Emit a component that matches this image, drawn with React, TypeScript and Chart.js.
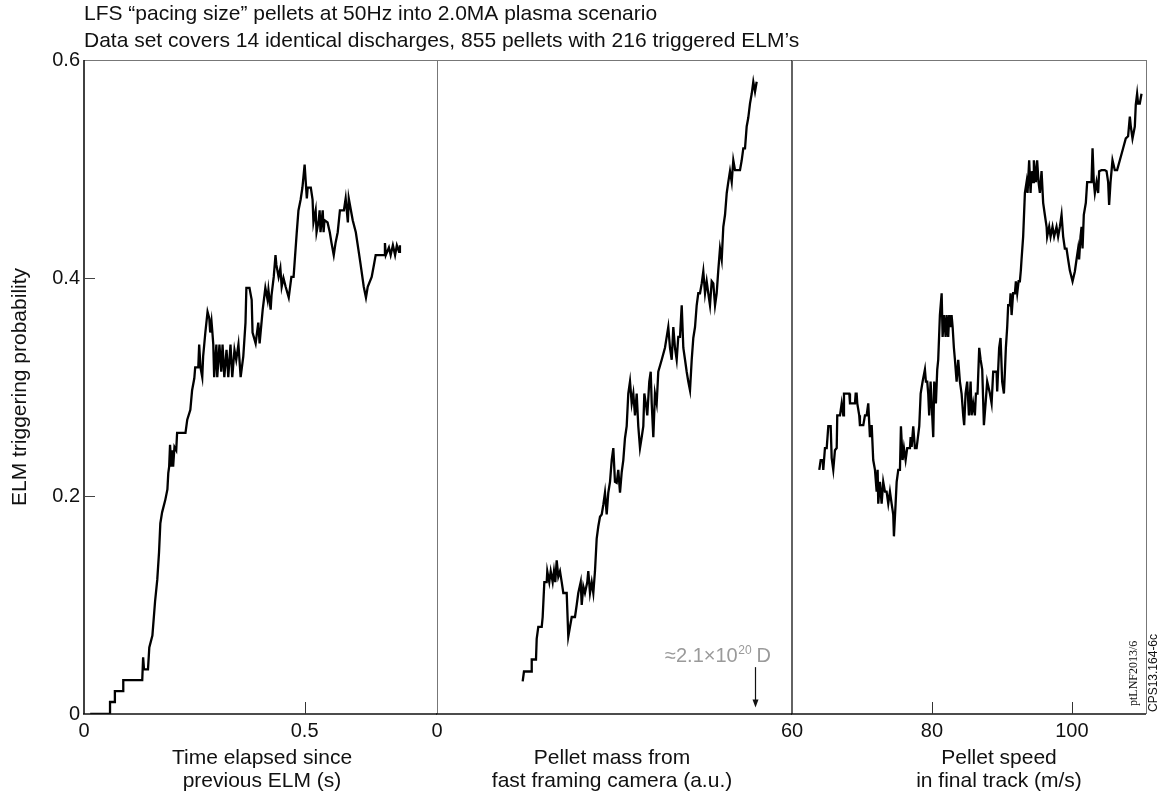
import React, { useEffect, useRef } from "react";
import { Chart, registerables } from "chart.js";

Chart.register(...registerables);

const SANS = "'Liberation Sans', Arial, Helvetica, sans-serif";
const SERIF = "'Liberation Serif', 'DejaVu Serif', serif";

// ---------- text ----------
const pageTitle = [
  "LFS \u201Cpacing size\u201D pellets at 50Hz into 2.0MA plasma scenario",
  "Data set covers 14 identical discharges, 855 pellets with 216 triggered ELM\u2019s",
];
const yAxisTitle = "ELM triggering probability";
const creditA = "CPS13.164-6c";
const creditB = "ptLNF2013/6";

// ---------- shared y axis ----------
const yTicks = [0, 0.2, 0.4, 0.6];

// ---------- panel 1: time since previous ELM ----------
const timeX = [
  0.014, 0.059, 0.059, 0.07, 0.07, 0.089, 0.089, 0.132, 0.134, 0.136, 0.145, 0.148, 0.155, 0.161,
  0.166, 0.17, 0.173, 0.177, 0.184, 0.189, 0.191, 0.193, 0.195, 0.198, 0.2, 0.202, 0.205, 0.209,
  0.211, 0.23, 0.234, 0.241, 0.245, 0.25, 0.252, 0.259, 0.261, 0.264, 0.268, 0.27, 0.275, 0.28,
  0.284, 0.286, 0.289, 0.291, 0.293, 0.295, 0.3, 0.302, 0.307, 0.311, 0.314, 0.318, 0.323, 0.327,
  0.332, 0.336, 0.341, 0.345, 0.35, 0.355, 0.361, 0.366, 0.368, 0.375, 0.38, 0.382, 0.389, 0.395,
  0.398, 0.405, 0.411, 0.416, 0.418, 0.423, 0.425, 0.43, 0.434, 0.436, 0.441, 0.445, 0.448, 0.452,
  0.457, 0.464, 0.47, 0.475, 0.482, 0.486, 0.491, 0.495, 0.5, 0.505, 0.507, 0.514, 0.518, 0.52,
  0.525, 0.527, 0.532, 0.534, 0.536, 0.541, 0.543, 0.545, 0.552, 0.557, 0.561, 0.566, 0.57, 0.575,
  0.58, 0.589, 0.593, 0.598, 0.6, 0.609, 0.616, 0.623, 0.627, 0.634, 0.639, 0.643, 0.652, 0.657,
  0.661, 0.68, 0.682, 0.684, 0.691, 0.695, 0.7, 0.705, 0.709, 0.714, 0.716,
];
const timeProb = [
  0, 0, 0.011, 0.011, 0.021, 0.021, 0.031, 0.031, 0.052, 0.041, 0.041, 0.061, 0.072, 0.103,
  0.123, 0.148, 0.175, 0.185, 0.196, 0.206, 0.221, 0.227, 0.247, 0.227, 0.242, 0.227, 0.245, 0.242,
  0.258, 0.258, 0.27, 0.279, 0.297, 0.308, 0.318, 0.318, 0.339, 0.318, 0.309, 0.328, 0.35, 0.369,
  0.363, 0.35, 0.36, 0.35, 0.339, 0.309, 0.339, 0.309, 0.339, 0.314, 0.339, 0.309, 0.334, 0.309,
  0.339, 0.309, 0.334, 0.325, 0.339, 0.309, 0.328, 0.359, 0.391, 0.391, 0.38, 0.35, 0.34, 0.359,
  0.34, 0.371, 0.391, 0.38, 0.389, 0.371, 0.384, 0.401, 0.421, 0.412, 0.401, 0.409, 0.392, 0.4,
  0.392, 0.382, 0.401, 0.401, 0.441, 0.462, 0.472, 0.483, 0.504, 0.473, 0.483, 0.483, 0.472, 0.451,
  0.462, 0.442, 0.453, 0.462, 0.442, 0.462, 0.442, 0.453, 0.451, 0.442, 0.432, 0.421, 0.432, 0.442,
  0.462, 0.462, 0.473, 0.451, 0.473, 0.453, 0.442, 0.423, 0.412, 0.392, 0.382, 0.392, 0.401, 0.412,
  0.421, 0.421, 0.432, 0.421, 0.428, 0.421, 0.43, 0.421, 0.43, 0.424, 0.43,
];
const timeRange = [0, 0.8];
const timeLabelTicks = [0, 0.5];
const timeInnerTicks = [0.5];
const timeTitle = ["Time elapsed since", "previous ELM (s)"];

// ---------- panel 2: pellet mass ----------
const massX = [
  14.48, 14.7, 16.01, 16.01, 16.73, 16.85, 17.12, 17.7, 17.86, 18.14, 18.54, 18.64, 18.98, 19.22,
  19.55, 19.77, 19.99, 20.23, 20.5, 20.79, 21.08, 21.35, 21.92, 22.19, 22.48, 22.77, 23.32, 23.61,
  23.88, 24.29, 24.46, 24.73, 25.01, 25.4, 25.57, 25.86, 26.15, 26.42, 26.7, 26.99, 27.26, 27.55,
  27.84, 28.11, 28.39, 28.68, 28.95, 29.24, 29.53, 29.8, 30.08, 30.37, 30.64, 30.93, 31.22, 31.49,
  31.77, 32.06, 32.33, 32.62, 32.91, 33.18, 33.46, 33.75, 34.02, 34.31, 34.6, 34.87, 35.04, 35.32,
  35.54, 35.88, 36.12, 36.29, 36.56, 36.84, 37.13, 37.4, 37.98, 38.53, 39.09, 39.38, 39.67, 39.94,
  40.22, 40.51, 40.78, 41.07, 41.36, 41.63, 41.92, 42.2, 42.47, 42.76, 43.05, 43.32, 43.61, 43.89,
  44.16, 44.45, 44.74, 45.01, 45.3, 45.58, 45.85, 46.14, 46.43, 46.7, 46.99, 47.27, 47.54, 47.83,
  48.12, 48.39, 48.68, 48.97, 49.23, 49.52, 49.81, 50.08, 50.37, 51.21, 51.5, 51.77, 52.06, 52.34,
  52.61, 52.9, 53.19, 53.46, 53.75, 54.03,
];
const massProb = [
  0.03, 0.039, 0.039, 0.05, 0.05, 0.069, 0.08, 0.08, 0.089, 0.121, 0.121, 0.131, 0.121, 0.131,
  0.121, 0.131, 0.121, 0.141, 0.126, 0.131, 0.121, 0.111, 0.111, 0.071, 0.08, 0.089, 0.089, 0.1,
  0.111, 0.121, 0.1, 0.117, 0.111, 0.121, 0.131, 0.111, 0.121, 0.111, 0.131, 0.161, 0.172, 0.181,
  0.183, 0.192, 0.203, 0.183, 0.203, 0.213, 0.233, 0.244, 0.213, 0.212, 0.224, 0.203, 0.222, 0.233,
  0.253, 0.264, 0.294, 0.305, 0.285, 0.294, 0.274, 0.294, 0.264, 0.244, 0.254, 0.264, 0.294, 0.284,
  0.274, 0.305, 0.314, 0.285, 0.254, 0.294, 0.285, 0.314, 0.325, 0.336, 0.355, 0.336, 0.325, 0.355,
  0.336, 0.325, 0.346, 0.346, 0.375, 0.336, 0.325, 0.314, 0.305, 0.297, 0.325, 0.345, 0.355, 0.375,
  0.386, 0.386, 0.395, 0.406, 0.386, 0.397, 0.386, 0.375, 0.397, 0.395, 0.375, 0.386, 0.407, 0.427,
  0.417, 0.447, 0.458, 0.478, 0.488, 0.498, 0.488, 0.508, 0.499, 0.499, 0.508, 0.519, 0.519, 0.539,
  0.547, 0.56, 0.569, 0.58, 0.571, 0.58,
];
const massRange = [0, 60];
const massLabelTicks = [0, 60];
const massInnerTicks: number[] = [];
const massTitle = ["Pellet mass from", "fast framing camera (a.u.)"];
const massNoteMain = "\u22482.1\u00D710";
const massNoteSup = "20";
const massNoteTail = " D";
const massNoteAt = 47.5; // x value where the note is centred
const massNoteBaseline = 0.048;
const massArrowAt = 53.8;
const massArrowFrom = 0.043;
const massArrowTo = 0.006;

// ---------- panel 3: pellet speed ----------
const speedX = [
  63.9, 64.1, 64.39, 64.47, 64.71, 64.96, 65.19, 65.53, 65.67, 65.9, 66.14, 66.39, 66.47, 66.86,
  67.1, 67.33, 67.43, 68.19, 68.29, 69.0, 69.1, 69.24, 69.33, 69.61, 69.71, 70.19, 70.43, 70.67,
  70.9, 71.14, 71.39, 71.61, 71.86, 72.1, 72.24, 72.33, 72.57, 72.81, 73.04, 73.29, 73.52, 73.76,
  74.0, 74.24, 74.47, 74.57, 74.81, 74.96, 75.19, 75.43, 75.57, 75.81, 76.0, 76.24, 76.47, 76.86,
  76.96, 77.1, 77.33, 77.57, 77.81, 78.19, 78.39, 78.67, 79.0, 79.14, 79.33, 79.47, 79.61, 79.81,
  79.96, 80.19, 80.33, 80.57, 80.76, 80.9, 81.14, 81.39, 81.53, 81.71, 81.96, 82.1, 82.33, 82.47,
  82.67, 82.81, 82.96, 83.14, 83.29, 83.53, 83.76, 84.0, 84.24, 84.47, 84.61, 84.81, 85.04, 85.29,
  85.53, 85.67, 85.9, 86.14, 86.29, 86.52, 86.76, 86.96, 87.19, 87.43, 87.67, 87.9, 88.29, 88.53,
  88.76, 89.24, 89.33, 89.61, 89.81, 90.04, 90.29, 90.43, 90.57, 90.76, 90.9, 91.14, 91.24, 91.39,
  91.61, 91.86, 92.0, 92.19, 92.39, 92.57, 92.71, 92.81, 93.04, 93.29, 93.53, 93.67, 93.9, 94.1,
  94.24, 94.47, 94.57, 94.86, 95.04, 95.24, 95.43, 95.67, 95.9, 96.14, 96.39, 96.47, 96.76, 96.96,
  97.24, 97.47, 97.81, 98.04, 98.29, 98.53, 98.76, 99.0, 99.24, 99.47, 99.71, 100.1, 100.43, 100.67,
  100.9, 101.04, 101.24, 101.39, 101.53, 101.71, 102.0, 102.19, 102.47, 102.81, 102.96, 103.14,
  103.29, 103.53, 103.76, 103.9, 104.24, 104.71, 104.96, 105.19, 105.33, 105.53, 105.81, 106.14,
  106.47, 106.86, 107.33, 107.71, 108.04, 108.29, 108.43, 108.67, 109.0, 109.14, 109.33, 109.47,
  109.71, 109.96,
];
const speedProb = [
  0.224, 0.233, 0.233, 0.224, 0.244, 0.244, 0.264, 0.264, 0.235, 0.224, 0.242, 0.244, 0.274, 0.274,
  0.285, 0.274, 0.294, 0.294, 0.285, 0.285, 0.294, 0.294, 0.285, 0.274, 0.265, 0.265, 0.274, 0.274,
  0.285, 0.254, 0.265, 0.233, 0.224, 0.204, 0.224, 0.193, 0.213, 0.193, 0.213, 0.204, 0.204, 0.193,
  0.204, 0.193, 0.183, 0.163, 0.193, 0.213, 0.224, 0.224, 0.264, 0.233, 0.244, 0.233, 0.244, 0.244,
  0.254, 0.245, 0.264, 0.244, 0.244, 0.264, 0.294, 0.305, 0.316, 0.305, 0.305, 0.294, 0.274, 0.305,
  0.285, 0.254, 0.305, 0.285, 0.316, 0.325, 0.366, 0.386, 0.346, 0.366, 0.346, 0.366, 0.346, 0.366,
  0.355, 0.366, 0.355, 0.336, 0.325, 0.305, 0.325, 0.305, 0.294, 0.274, 0.265, 0.294, 0.305, 0.274,
  0.305, 0.274, 0.285, 0.274, 0.294, 0.294, 0.336, 0.325, 0.316, 0.265, 0.285, 0.305, 0.294, 0.285,
  0.314, 0.314, 0.296, 0.336, 0.345, 0.305, 0.294, 0.314, 0.336, 0.355, 0.375, 0.375, 0.386, 0.366,
  0.386, 0.386, 0.397, 0.386, 0.397, 0.397, 0.407, 0.417, 0.438, 0.478, 0.488, 0.478, 0.508, 0.478,
  0.498, 0.488, 0.508, 0.488, 0.508, 0.488, 0.478, 0.498, 0.469, 0.458, 0.447, 0.438, 0.447, 0.438,
  0.447, 0.438, 0.447, 0.438, 0.447, 0.458, 0.438, 0.427, 0.427, 0.417, 0.407, 0.397, 0.406, 0.417,
  0.427, 0.417, 0.438, 0.447, 0.427, 0.458, 0.469, 0.488, 0.488, 0.488, 0.519, 0.488,
  0.478, 0.488, 0.478, 0.498, 0.499, 0.499, 0.498, 0.488, 0.467, 0.488, 0.508, 0.499,
  0.499, 0.508, 0.519, 0.528, 0.53, 0.548, 0.539, 0.528, 0.539, 0.559, 0.569, 0.56,
  0.56, 0.569,
];
const speedRange = [60, 110.6];
const speedLabelTicks = [80, 100];
const speedInnerTicks = [80, 100];
const speedTitle = ["Pellet speed", "in final track (m/s)"];

// ---------- layout (pixels) ----------
const W = 1164;
const H = 794;
const PLOT_TOP = 60;
const PLOT_BOTTOM = 714;
const EDGES = [84, 437, 792, 1146];
const AXIS_TITLE_CENTERS = [262, 612, 999];

type Panel = {
  xs: number[];
  ys: number[];
  range: number[];
  labelTicks: number[];
  innerTicks: number[];
  title: string[];
};

const PANELS: Panel[] = [
  { xs: timeX, ys: timeProb, range: timeRange, labelTicks: timeLabelTicks, innerTicks: timeInnerTicks, title: timeTitle },
  { xs: massX, ys: massProb, range: massRange, labelTicks: massLabelTicks, innerTicks: massInnerTicks, title: massTitle },
  { xs: speedX, ys: speedProb, range: speedRange, labelTicks: speedLabelTicks, innerTicks: speedInnerTicks, title: speedTitle },
];

function seg(ctx: CanvasRenderingContext2D, x1: number, y1: number, x2: number, y2: number, color: string, w: number) {
  ctx.beginPath();
  ctx.strokeStyle = color;
  ctx.lineWidth = w;
  ctx.moveTo(x1, y1);
  ctx.lineTo(x2, y2);
  ctx.stroke();
}

function makeDecor(idx: number, panel: Panel) {
  return {
    id: "decor" + idx,
    afterDraw(chart: any) {
      const ctx: CanvasRenderingContext2D = chart.ctx;
      const a = chart.chartArea;
      const xs = chart.scales.x;
      const ys = chart.scales.y;
      ctx.save();
      // frame
      seg(ctx, a.left, a.top + 0.5, a.right, a.top + 0.5, "#777", 1);
      seg(ctx, a.left - 1, a.bottom, a.right, a.bottom, "#111", 1.6);
      if (idx === 0) seg(ctx, a.left, a.top, a.left, a.bottom, "#111", 1.6);
      if (idx === 1) seg(ctx, a.right, a.top, a.right, a.bottom, "#222", 1.4);
      else seg(ctx, a.right + 0.5, a.top, a.right + 0.5, a.bottom, "#777", 1);

      // inward ticks
      for (const v of panel.innerTicks) {
        const px = Math.round(xs.getPixelForValue(v)) + 0.5;
        seg(ctx, px, a.bottom, px, a.bottom - 12, "#333", 1);
      }
      if (idx === 0) {
        for (const v of [0.2, 0.4]) {
          const py = Math.round(ys.getPixelForValue(v)) + 0.5;
          seg(ctx, a.left, py, a.left + 11, py, "#444", 1);
        }
      }

      // axis title (two lines)
      ctx.fillStyle = "#111";
      ctx.font = `21px ${SANS}`;
      ctx.textAlign = "center";
      ctx.textBaseline = "alphabetic";
      ctx.fillText(panel.title[0], AXIS_TITLE_CENTERS[idx], 764);
      ctx.fillText(panel.title[1], AXIS_TITLE_CENTERS[idx], 787);

      if (idx === 0) {
        ctx.textAlign = "left";
        ctx.fillText(pageTitle[0], a.left, 20);
        ctx.fillText(pageTitle[1], a.left, 47);
        ctx.save();
        ctx.translate(20, (a.top + a.bottom) / 2);
        ctx.rotate(-Math.PI / 2);
        ctx.textAlign = "center";
        ctx.textBaseline = "middle";
        ctx.fillText(yAxisTitle, 0, 0);
        ctx.restore();
      }

      if (idx === 1) {
        // note + arrow
        ctx.fillStyle = "#9a9a9a";
        ctx.textAlign = "left";
        ctx.textBaseline = "alphabetic";
        ctx.font = `20px ${SANS}`;
        const w1 = ctx.measureText(massNoteMain).width;
        const w3 = ctx.measureText(massNoteTail).width;
        ctx.font = `12px ${SANS}`;
        const w2 = ctx.measureText(massNoteSup).width;
        const cx = xs.getPixelForValue(massNoteAt);
        const by = ys.getPixelForValue(massNoteBaseline);
        let x0 = cx - (w1 + w2 + w3) / 2;
        ctx.font = `20px ${SANS}`;
        ctx.fillText(massNoteMain, x0, by);
        ctx.font = `12px ${SANS}`;
        ctx.fillText(massNoteSup, x0 + w1 + 0.5, by - 8);
        ctx.font = `20px ${SANS}`;
        ctx.fillText(massNoteTail, x0 + w1 + w2, by);

        const ax = Math.round(xs.getPixelForValue(massArrowAt)) + 0.5;
        const ay0 = ys.getPixelForValue(massArrowFrom);
        const ay1 = ys.getPixelForValue(massArrowTo);
        seg(ctx, ax, ay0, ax, ay1 - 6, "#111", 1.2);
        ctx.beginPath();
        ctx.fillStyle = "#111";
        ctx.moveTo(ax - 3, ay1 - 8);
        ctx.lineTo(ax + 3, ay1 - 8);
        ctx.lineTo(ax, ay1);
        ctx.closePath();
        ctx.fill();
      }

      if (idx === 2) {
        ctx.fillStyle = "#111";
        ctx.save();
        ctx.translate(1154, 712);
        ctx.rotate(-Math.PI / 2);
        ctx.textAlign = "left";
        ctx.textBaseline = "middle";
        ctx.font = `12px ${SANS}`;
        ctx.fillText(creditA, 0, 0);
        ctx.restore();
        ctx.save();
        ctx.translate(1134, 706);
        ctx.rotate(-Math.PI / 2);
        ctx.textAlign = "left";
        ctx.textBaseline = "middle";
        ctx.font = `12px ${SERIF}`;
        ctx.fillText(creditB, 0, 0);
        ctx.restore();
      }
      ctx.restore();
    },
  };
}

function buildChart(canvas: HTMLCanvasElement, idx: number, panel: Panel) {
  const left = idx === 0 ? 0 : EDGES[idx];
  const right = W - EDGES[idx + 1];
  return new Chart(canvas, {
    type: "line",
    data: {
      datasets: [
        {
          data: panel.xs.map((x, i) => ({ x, y: panel.ys[i] })),
          borderColor: "#000",
          borderWidth: 2.3,
          pointRadius: 0,
          tension: 0,
          fill: false,
        },
      ],
    },
    options: {
      responsive: false,
      animation: false,
      events: [],
      layout: { padding: { top: PLOT_TOP, bottom: 0, left, right } },
      plugins: { legend: { display: false }, tooltip: { enabled: false }, title: { display: false } },
      scales: {
        x: {
          type: "linear",
          min: panel.range[0],
          max: panel.range[1],
          afterBuildTicks: (s: any) => {
            s.ticks = panel.labelTicks.map((v) => ({ value: v }));
          },
          afterFit: (s: any) => {
            s.height = H - PLOT_BOTTOM;
          },
          grid: { display: false, drawTicks: false },
          border: { display: false },
          ticks: {
            autoSkip: false,
            maxRotation: 0,
            padding: 5,
            color: "#111",
            font: { family: SANS, size: 20 },
            callback: (v: any) => String(v),
          },
        },
        y: {
          type: "linear",
          min: yTicks[0],
          max: yTicks[yTicks.length - 1],
          display: idx === 0,
          afterBuildTicks: (s: any) => {
            s.ticks = yTicks.map((v) => ({ value: v }));
          },
          afterFit: (s: any) => {
            s.width = idx === 0 ? EDGES[0] : 0;
          },
          grid: { display: false, drawTicks: false },
          border: { display: false },
          ticks: {
            padding: 4,
            color: "#111",
            font: { family: SANS, size: 20 },
            callback: (v: any) => (Number(v) === 0 ? "0" : Number(v).toFixed(1)),
          },
        },
      },
    },
    plugins: [makeDecor(idx, panel)],
  } as any);
}

export default function App() {
  const refs = [useRef<HTMLCanvasElement>(null), useRef<HTMLCanvasElement>(null), useRef<HTMLCanvasElement>(null)];
  useEffect(() => {
    const charts = PANELS.map((p, i) => buildChart(refs[i].current as HTMLCanvasElement, i, p));
    return () => charts.forEach((c) => c.destroy());
  }, []);
  return (
    <div style={{ position: "absolute", left: 0, top: 0, width: W, height: H, background: "#fff", overflow: "hidden" }}>
      {PANELS.map((_, i) => (
        <canvas
          key={i}
          ref={refs[i]}
          width={W}
          height={H}
          style={{ position: "absolute", left: 0, top: 0, width: W, height: H }}
        />
      ))}
    </div>
  );
}
